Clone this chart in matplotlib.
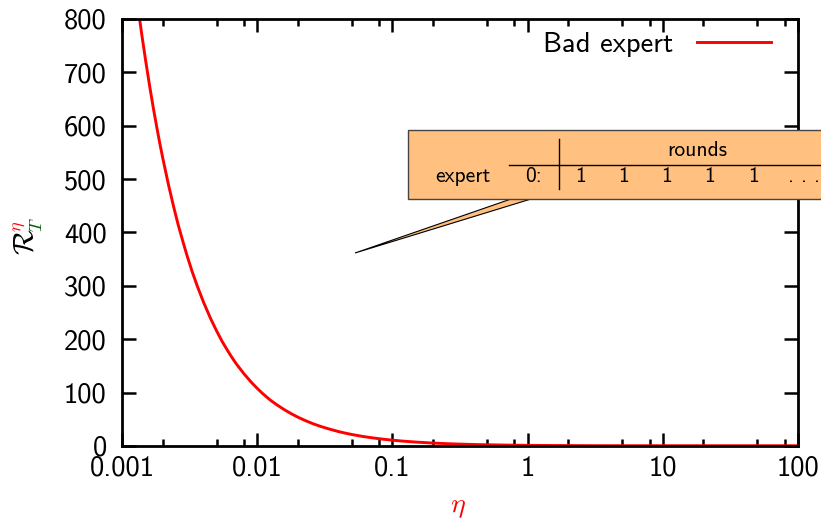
import matplotlib
matplotlib.use("Agg")
import matplotlib.pyplot as plt
from matplotlib.patches import Polygon, Rectangle
from matplotlib.lines import Line2D
from matplotlib.ticker import FixedLocator, FixedFormatter, LogLocator, NullFormatter

# Regret of Hedge against a bad expert as a function of the learning rate
eta = [0.0013, 0.00135, 0.0014, 0.0015, 0.0016, 0.0017, 0.0018, 0.0019, 0.002,
       0.0022, 0.0024, 0.0026, 0.0028, 0.003, 0.0033, 0.0036, 0.004, 0.0045,
       0.005, 0.0055, 0.006, 0.0065, 0.007, 0.008, 0.009, 0.01, 0.011, 0.0125,
       0.014, 0.016, 0.018, 0.02, 0.023, 0.026, 0.03, 0.035, 0.04, 0.045,
       0.05, 0.06, 0.07, 0.085, 0.1, 0.12, 0.15, 0.2, 0.25, 0.3, 0.4, 0.5,
       0.7, 1, 1.5, 2, 3, 5, 10, 30, 100]
regret = [830, 800, 771, 720, 675, 635, 600, 568, 540,
          491, 450, 415, 386, 360, 327, 300, 270, 240,
          216, 196, 180, 166, 154, 135, 120, 108, 98, 86,
          77, 67.5, 60, 54, 47, 41.5, 36, 31, 27, 24,
          21.6, 18, 15.5, 12.8, 10.9, 9.1, 7.3, 5.5, 4.4, 3.7, 2.8, 2.3,
          1.7, 1.2, 0.9, 0.75, 0.6, 0.5, 0.5, 0.5, 0.5]

x_ticks = [0.001, 0.01, 0.1, 1, 10, 100]
x_tick_labels = ["0.001", "0.01", "0.1", "1", "10", "100"]
y_ticks = [0, 100, 200, 300, 400, 500, 600, 700, 800]

# Loss sequence shown in the inset table
expert_id = "0:"
expert_losses = [1, 1, 1, 1, 1]

W, H = 821, 519
plt.rcParams["mathtext.fontset"] = "cm"
FONT = "cmss10"

fig = plt.figure(figsize=(W / 100, H / 100), dpi=100)


def P(x, y):
    """Pixel position (from top-left) to figure fraction."""
    return (x / W, 1 - y / H)


ax = fig.add_axes([122 / W, 73 / H, 676 / W, 427 / H])
ax.plot(eta, regret, color="red", lw=2.1, label="Bad expert",
        solid_joinstyle="round")
ax.set_xscale("log")
ax.set_xlim(0.001, 100)
ax.set_ylim(0, 800)

ax.xaxis.set_major_locator(FixedLocator(x_ticks))
ax.xaxis.set_major_formatter(FixedFormatter(x_tick_labels))
ax.xaxis.set_minor_locator(LogLocator(base=10, subs=(2.0, 5.0, 8.0), numticks=30))
ax.xaxis.set_minor_formatter(NullFormatter())
ax.yaxis.set_major_locator(FixedLocator(y_ticks))

for s in ax.spines.values():
    s.set_linewidth(2.0)

ax.tick_params(which="both", direction="in", top=True, right=True, width=1.8)
ax.tick_params(axis="x", which="major", length=9.5, pad=7)
ax.tick_params(axis="x", which="minor", length=5)
ax.tick_params(axis="y", which="major", length=10, pad=11)
for lab in ax.get_xticklabels() + ax.get_yticklabels():
    lab.set_fontfamily(FONT)
    lab.set_fontsize(20.5)

# Axis labels
ax.set_xlabel(r"$\eta$", color="red", fontsize=20)
ax.xaxis.set_label_coords((458 - 122) / 676, (446 - 492) / 427)

fig.text(*P(25, 242), r"$\mathcal{R}$", rotation=90, fontsize=21,
         ha="center", va="center", color="black")
fig.text(*P(18, 226), r"$\eta$", rotation=90, fontsize=13,
         ha="center", va="center", color="red")
fig.text(*P(37, 225), r"$T$", rotation=90, fontsize=13,
         ha="center", va="center", color="#006400")

# Legend
leg = ax.legend(loc="upper right", bbox_to_anchor=P(771, 32),
                bbox_transform=fig.transFigure, frameon=False,
                markerfirst=False, borderpad=0, borderaxespad=0,
                handlelength=2.6, handletextpad=0.85,
                prop={"family": FONT, "size": 20.5})

# Inset callout describing the loss sequence
box_color = "#ffc080"
wedge = Polygon([P(511, 199), P(531, 199), P(355, 253)], closed=True,
                transform=fig.transFigure, facecolor=box_color,
                edgecolor="black", lw=0.8, zorder=5)
fig.add_artist(wedge)
box = Rectangle(P(408, 199), (835 - 408) / W, (199 - 130) / H,
                transform=fig.transFigure, facecolor=box_color,
                edgecolor="#444444", lw=1.0, zorder=6)
fig.add_artist(box)
fig.add_artist(Line2D([558.5 / W, 558.5 / W], [1 - 139 / H, 1 - 189 / H],
                      transform=fig.transFigure, color="black", lw=1.0, zorder=7))
fig.add_artist(Line2D([509 / W, 1.0], [1 - 165 / H, 1 - 165 / H],
                      transform=fig.transFigure, color="black", lw=1.0, zorder=7))

tkw = dict(family=FONT, fontsize=15.5, ha="center", va="center", zorder=8)
fig.text(*P(697, 151), "rounds", **tkw)
fig.text(*P(463, 176), "expert", **tkw)
fig.text(*P(533, 176), expert_id, **tkw)
for i, v in enumerate(expert_losses):
    fig.text(*P(580 + 43.3 * i, 177), str(v), **tkw)
fig.text(*P(804, 177), ". . .", **tkw)

fig.savefig("out.png", dpi=100)
